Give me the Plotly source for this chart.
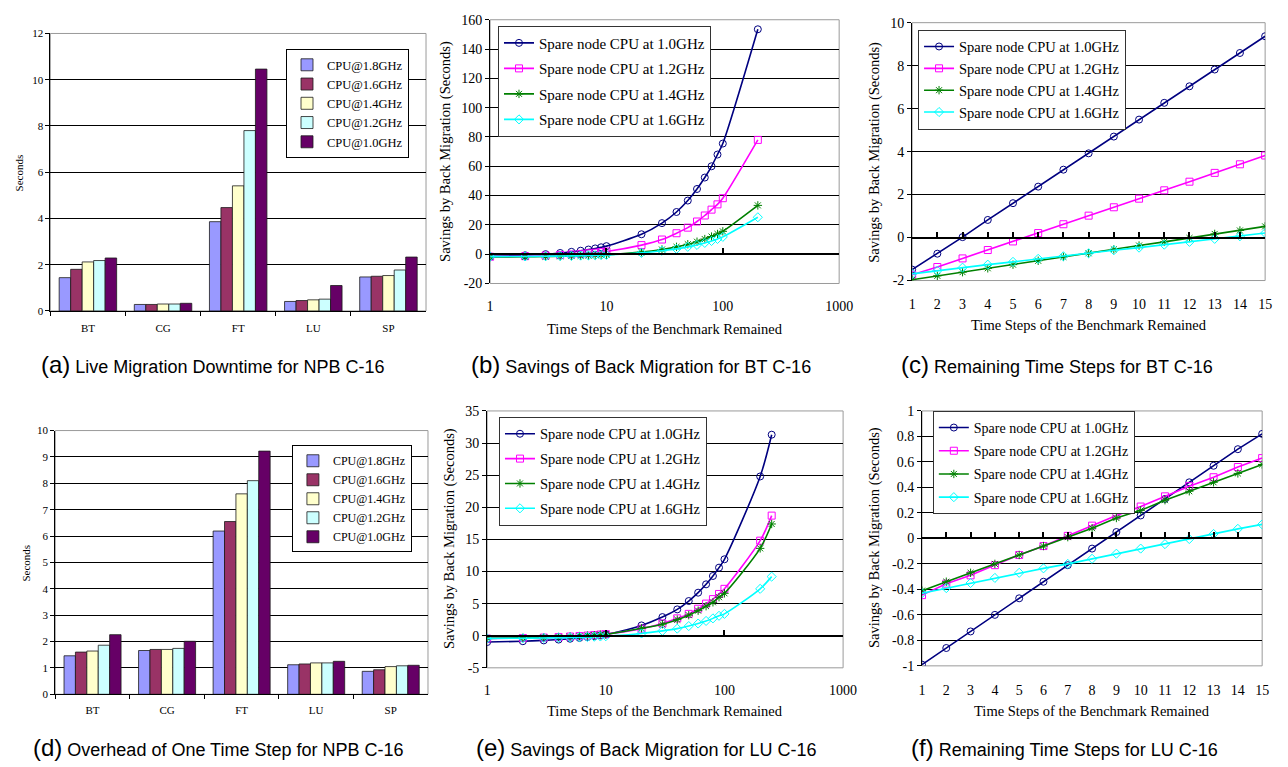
import plotly.graph_objects as go

W, H = 1288, 767

# ---------------- data ----------------
categories = ["BT", "CG", "FT", "LU", "SP"]
cpu_labels = ["CPU@1.8GHz", "CPU@1.6GHz", "CPU@1.4GHz", "CPU@1.2GHz", "CPU@1.0GHz"]
bar_colors = ["#9999FF", "#993366", "#FFFFCC", "#CCFFFF", "#660066"]

# (a) Live migration downtime (seconds)
down_18 = [1.44, 0.28, 3.86, 0.41, 1.47]
down_16 = [1.80, 0.28, 4.47, 0.45, 1.50]
down_14 = [2.12, 0.30, 5.41, 0.48, 1.53]
down_12 = [2.18, 0.30, 7.80, 0.51, 1.77]
down_10 = [2.29, 0.33, 10.46, 1.10, 2.33]

# (d) Overhead of one time step (seconds)
over_18 = [1.46, 1.66, 6.19, 1.12, 0.87]
over_16 = [1.60, 1.70, 6.55, 1.15, 0.93]
over_14 = [1.64, 1.70, 7.60, 1.19, 1.05]
over_12 = [1.86, 1.74, 8.10, 1.19, 1.08]
over_10 = [2.26, 2.01, 9.22, 1.25, 1.10]

spare_labels = ["Spare node CPU at 1.0GHz", "Spare node CPU at 1.2GHz",
                "Spare node CPU at 1.4GHz", "Spare node CPU at 1.6GHz"]
line_colors = ["#000080", "#FF00FF", "#008000", "#00FFFF"]
line_symbols = ["circle-open", "square-open", "asterisk-open", "diamond-open"]

# (b) BT C-16 savings vs time steps (log x)
steps_b = [1, 2, 3, 4, 5, 6, 7, 8, 9, 10, 20, 30, 40, 50, 60, 70, 80, 90, 100, 200]
bt_10 = [-1.49, -0.75, 0.02, 0.82, 1.60, 2.37, 3.16, 3.92, 4.70, 5.49,
         13.6, 21.2, 28.8, 36.6, 44.5, 52.3, 60.0, 68.0, 75.5, 153.5]
bt_12 = [-1.73, -1.37, -0.97, -0.58, -0.18, 0.21, 0.62, 1.02, 1.41, 1.81,
         6.2, 10.0, 14.3, 18.1, 22.3, 26.4, 30.4, 34.0, 38.2, 78.0]
bt_14 = [-1.96, -1.78, -1.61, -1.43, -1.26, -1.08, -0.90, -0.73, -0.55, -0.37,
         1.4, 3.2, 5.0, 6.8, 8.5, 10.3, 12.0, 13.8, 15.6, 33.3]
bt_16 = [-1.69, -1.54, -1.40, -1.26, -1.13, -0.99, -0.87, -0.73, -0.59, -0.47,
         0.9, 2.3, 3.6, 5.0, 6.3, 7.7, 9.0, 10.4, 11.8, 25.2]

# (c) BT C-16 remaining time steps 1..15
steps_c = list(range(1, 16))
btr_10 = [-1.49, -0.75, 0.02, 0.82, 1.60, 2.37, 3.16, 3.92, 4.70, 5.49, 6.27, 7.04, 7.82, 8.59, 9.37]
btr_12 = [-1.73, -1.37, -0.97, -0.58, -0.18, 0.21, 0.62, 1.02, 1.41, 1.81, 2.20, 2.60, 3.01, 3.41, 3.82]
btr_14 = [-1.96, -1.78, -1.61, -1.43, -1.26, -1.08, -0.90, -0.73, -0.55, -0.37, -0.20, -0.02, 0.17, 0.33, 0.52]
btr_16 = [-1.69, -1.54, -1.40, -1.26, -1.13, -0.99, -0.87, -0.73, -0.59, -0.47, -0.33, -0.20, -0.06, 0.06, 0.21]

# (e) LU C-16 savings vs time steps (log x)
steps_e = [1, 2, 3, 4, 5, 6, 7, 8, 9, 10, 20, 30, 40, 50, 60, 70, 80, 90, 100, 200, 250]
lu_10 = [-0.99, -0.86, -0.73, -0.60, -0.47, -0.34, -0.21, -0.08, 0.05, 0.18,
         1.6, 2.9, 4.1, 5.4, 6.7, 8.0, 9.3, 10.6, 11.9, 24.8, 31.3]
lu_12 = [-0.445, -0.355, -0.29, -0.21, -0.13, -0.06, 0.02, 0.10, 0.18, 0.25,
         1.1, 1.9, 2.7, 3.4, 4.2, 5.0, 5.7, 6.5, 7.3, 14.8, 18.7]
lu_14 = [-0.41, -0.34, -0.27, -0.20, -0.13, -0.06, 0.01, 0.08, 0.16, 0.22,
         1.15, 1.8, 2.5, 3.2, 3.9, 4.6, 5.2, 6.0, 6.6, 13.6, 17.4]
lu_16 = [-0.43, -0.39, -0.35, -0.31, -0.27, -0.235, -0.20, -0.16, -0.12, -0.08,
         0.35, 0.75, 1.1, 1.5, 1.9, 2.3, 2.7, 3.1, 3.4, 7.3, 9.2]

# (f) LU C-16 remaining time steps 1..15
steps_f = list(range(1, 16))
lur_10 = [-0.99, -0.86, -0.73, -0.60, -0.47, -0.34, -0.21, -0.08, 0.05, 0.18, 0.31, 0.44, 0.57, 0.70, 0.82]
lur_12 = [-0.445, -0.355, -0.29, -0.21, -0.13, -0.06, 0.02, 0.10, 0.18, 0.25, 0.33, 0.41, 0.48, 0.56, 0.63]
lur_14 = [-0.41, -0.34, -0.27, -0.20, -0.13, -0.06, 0.01, 0.08, 0.16, 0.22, 0.30, 0.37, 0.44, 0.51, 0.58]
lur_16 = [-0.43, -0.39, -0.35, -0.31, -0.27, -0.235, -0.20, -0.16, -0.12, -0.08, -0.045, -0.005, 0.035, 0.075, 0.11]

# tick labels
ticks_a = [0, 2, 4, 6, 8, 10, 12]
ticks_d = [0, 1, 2, 3, 4, 5, 6, 7, 8, 9, 10]
ticks_b = [-20, 0, 20, 40, 60, 80, 100, 120, 140, 160]
ticks_c = [-2, 0, 2, 4, 6, 8, 10]
ticks_e = [-5, 0, 5, 10, 15, 20, 25, 30, 35]
ticks_f = [-1, -0.8, -0.6, -0.4, -0.2, 0, 0.2, 0.4, 0.6, 0.8, 1]
ticks_log = [1, 10, 100, 1000]

captions = [
    ("(a)", "Live Migration Downtime for NPB C-16"),
    ("(b)", "Savings of Back Migration for BT C-16"),
    ("(c)", "Remaining Time Steps for BT C-16"),
    ("(d)", "Overhead of One Time Step for NPB C-16"),
    ("(e)", "Savings of Back Migration for LU C-16"),
    ("(f)", "Remaining Time Steps for LU C-16"),
]
xtitle = "Time Steps of the Benchmark Remained"
ytitle = "Savings by Back Migration (Seconds)"

# ---------------- layout helpers ----------------
SERIF = "Liberation Serif, Times New Roman, serif"
SANS = "Liberation Sans, Arial, Helvetica, sans-serif"


def fx(p):
    return p / W


def fy(p):
    return 1 - p / H


def fmt(v):
    return "%g" % v


# plot areas in pixels: (left, right, top, bottom)
areas = {
    1: (47, 428, 27, 310),
    2: (493, 847, 13, 282),
    3: (921, 1279, 16, 279),
    4: (52, 430, 432, 701),
    5: (490, 851, 412, 674),
    6: (931, 1276, 412, 672),
}

fig = go.Figure()
layout = dict(
    width=W, height=H,
    margin=dict(l=0, r=0, t=0, b=0),
    paper_bgcolor="white", plot_bgcolor="white",
    showlegend=True,
    bargap=0.235, bargroupgap=0.0, barmode="group",
    font=dict(family=SERIF, color="black"),
)
annotations = []
shapes = []


def ax_name(kind, i):
    return kind + "axis" + ("" if i == 1 else str(i))


def ref(kind, i):
    return kind + ("" if i == 1 else str(i))


# ---- bar panels ----
def bar_panel(i, series, ticks, legend_id, legend_pos, legend_font, label_pos, gap_label):
    l, r, t, b = areas[i]
    for k, vals in enumerate(series):
        fig.add_trace(go.Bar(
            x=categories, y=vals, name=cpu_labels[k],
            marker=dict(color=bar_colors[k], line=dict(color="#1a1a1a", width=0.8)),
            xaxis=ref("x", i), yaxis=ref("y", i),
            legend=legend_id, legendgroup=legend_id + str(k),
        ))
    layout[ax_name("x", i)] = dict(
        domain=[fx(l), fx(r)], anchor=ref("y", i), type="category",
        range=[-0.5, 4.5], showline=True, linecolor="black", linewidth=1,
        ticks="outside", tickson="boundaries", ticklen=4, tickcolor="black",
        tickfont=dict(family=SERIF, size=11), ticklabelstandoff=gap_label,
        showgrid=False, zeroline=False, fixedrange=True,
    )
    layout[ax_name("y", i)] = dict(
        domain=[fy(b), fy(t)], anchor=ref("x", i),
        range=[ticks[0], ticks[-1]], tickvals=ticks, ticktext=[fmt(v) for v in ticks],
        showline=True, linecolor="black", linewidth=1,
        ticks="outside", ticklen=4, tickcolor="black",
        tickfont=dict(family=SERIF, size=11),
        showgrid=True, gridcolor="black", gridwidth=1, zeroline=False,
    )
    shapes.append(dict(type="rect", xref=ref("x", i) + " domain", yref=ref("y", i) + " domain",
                       x0=0, x1=1, y0=0, y1=1, line=dict(color="#9a9a9a", width=1),
                       layer="below"))
    layout[legend_id] = dict(
        x=fx(legend_pos[0]), y=fy(legend_pos[1]), xanchor="left", yanchor="top",
        bgcolor="white", bordercolor="black", borderwidth=1,
        font=dict(family=SERIF, size=legend_font), tracegroupgap=0,
        itemclick=False,
    )
    annotations.append(dict(text="Seconds", xref="paper", yref="paper",
                            x=fx(label_pos[0]), y=fy(label_pos[1]), textangle=-90,
                            showarrow=False, font=dict(family=SERIF, size=11),
                            xanchor="center", yanchor="middle"))


bar_panel(1, [down_18, down_16, down_14, down_12, down_10], ticks_a, "legend",
          (286, 43), 12.5, (15, 169), 7)
bar_panel(4, [over_18, over_16, over_14, over_12, over_10], ticks_d, "legend4",
          (292, 447), 12, (22, 567), 6)

# ---- line panels ----
extra_axis = [7]


def line_panel(i, xs, series, ticks, logx, spline, legend_id, legend_pos, legend_font,
               group_gap, ytitle_pos, xtitle_y, label_gap):
    l, r, t, b = areas[i]
    for k, vals in enumerate(series):
        fig.add_trace(go.Scatter(
            x=xs, y=vals, name=spare_labels[k], mode="lines+markers",
            line=dict(color=line_colors[k], width=1.6, shape="spline" if spline else "linear",
                      smoothing=0.8),
            marker=dict(symbol=line_symbols[k], size=7, color=line_colors[k],
                        line=dict(color=line_colors[k], width=1)),
            xaxis=ref("x", i), yaxis=ref("y", i),
            legend=legend_id, legendgroup=legend_id + str(k),
        ))
    if logx:
        xt = ticks_log
        xaxis_extra = dict(type="log", range=[0, 3], tickvals=xt, ticktext=[str(v) for v in xt])
    else:
        xt = xs
        xaxis_extra = dict(type="linear", range=[xs[0], xs[-1]], tickvals=xt,
                           ticktext=[str(v) for v in xt])
    layout[ax_name("x", i)] = dict(
        domain=[fx(l), fx(r)], anchor=ref("y", i),
        showline=False, ticks="", showgrid=False, zeroline=False,
        tickfont=dict(family=SERIF, size=14), ticklabelstandoff=label_gap,
        **xaxis_extra,
    )
    layout[ax_name("y", i)] = dict(
        domain=[fy(b), fy(t)], anchor=ref("x", i),
        range=[ticks[0], ticks[-1]], tickvals=ticks, ticktext=[fmt(v) for v in ticks],
        showline=True, linecolor="black", linewidth=1,
        ticks="outside", ticklen=4, tickcolor="black",
        tickfont=dict(family=SERIF, size=14),
        showgrid=True, gridcolor="black", gridwidth=1,
        zeroline=True, zerolinecolor="black", zerolinewidth=2,
    )
    # axis crossing at y = 0 with tick marks
    j = extra_axis[0]
    extra_axis[0] += 1
    d0, d1 = fy(b), fy(t)
    pos = d0 + (0 - ticks[0]) / (ticks[-1] - ticks[0]) * (d1 - d0)
    layout[ax_name("x", j)] = dict(
        overlaying=ref("x", i), anchor="free", position=pos, side="bottom",
        showline=True, linecolor="black", linewidth=2,
        ticks="inside", ticklen=5, tickwidth=1.5, tickcolor="black",
        showticklabels=False, showgrid=False, zeroline=False, **xaxis_extra,
    )
    fig.add_trace(go.Scatter(x=[None], y=[None], xaxis=ref("x", j), yaxis=ref("y", i),
                             showlegend=False, hoverinfo="skip", mode="lines"))
    shapes.append(dict(type="rect", xref=ref("x", i) + " domain", yref=ref("y", i) + " domain",
                       x0=0, x1=1, y0=0, y1=1, line=dict(color="#9a9a9a", width=1),
                       layer="below"))
    layout[legend_id] = dict(
        x=fx(legend_pos[0]), y=fy(legend_pos[1]), xanchor="left", yanchor="top",
        bgcolor="white", bordercolor="#333333", borderwidth=1,
        font=dict(family=SERIF, size=legend_font), tracegroupgap=group_gap,
        itemclick=False,
    )
    annotations.append(dict(text=ytitle, xref="paper", yref="paper",
                            x=fx(ytitle_pos[0]), y=fy(ytitle_pos[1]), textangle=-90,
                            showarrow=False, font=dict(family=SERIF, size=14.5),
                            xanchor="center", yanchor="middle"))
    annotations.append(dict(text=xtitle, xref="paper", yref="paper",
                            x=(fx(l) + fx(r)) / 2, y=fy(xtitle_y),
                            showarrow=False, font=dict(family=SERIF, size=14.5),
                            xanchor="center", yanchor="middle"))


line_panel(2, steps_b, [bt_10, bt_12, bt_14, bt_16], ticks_b, True, True, "legend2",
           (501, 19), 15, 3, (447, 147), 328, 13)
line_panel(3, steps_c, [btr_10, btr_12, btr_14, btr_16], ticks_c, False, False, "legend3",
           (927, 23), 14.5, 0, (882, 148), 324, 13)
line_panel(5, steps_e, [lu_10, lu_12, lu_14, lu_16], ticks_e, True, True, "legend5",
           (502, 418), 14.5, 3, (452, 542), 718, 12)
line_panel(6, steps_f, [lur_10, lur_12, lur_14, lur_16], ticks_f, False, False, "legend6",
           (942, 412), 14, 2, (883, 541), 718, 14)

# ---- captions ----
cap_pos = [(211, 365), (646, 365), (1068, 365), (218, 755), (651, 755), (1076, 755)]
for (tag, txt), (cx, cy) in zip(captions, cap_pos):
    annotations.append(dict(
        text='<span style="font-size:24px">' + tag + '</span> ' + txt,
        xref="paper", yref="paper", x=fx(cx), y=fy(cy), showarrow=False,
        font=dict(family=SANS, size=18, color="black"),
        xanchor="center", yanchor="middle"))

layout["annotations"] = annotations
layout["shapes"] = shapes
fig.update_layout(**layout)
fig.write_html("out.html", config={"displayModeBar": False},
               post_script="document.body.style.margin='0';")
